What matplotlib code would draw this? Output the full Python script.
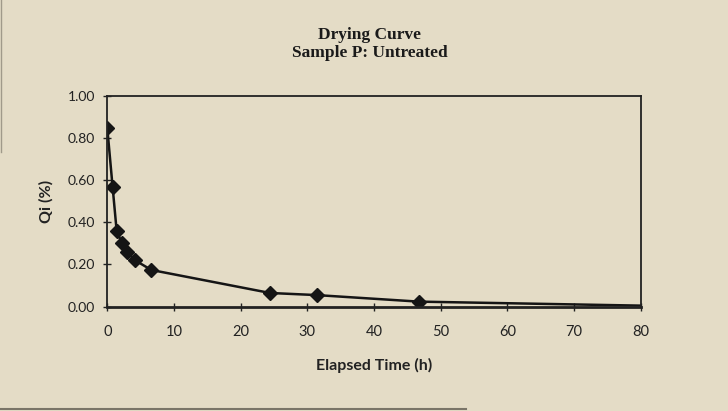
import matplotlib
matplotlib.use('Agg')
import matplotlib.pyplot as plt
from matplotlib.lines import Line2D

# drying curve, sample P untreated
hours = [0, 0.8, 1.4, 2.2, 3.0, 4.1, 6.6, 24.4, 31.4, 46.7, 80]
qi = [0.845, 0.566, 0.36, 0.30, 0.26, 0.221, 0.174, 0.065, 0.055, 0.024, 0.005]
xticks = [0, 10, 20, 30, 40, 50, 60, 70, 80]
yticks = [0.0, 0.2, 0.4, 0.6, 0.8, 1.0]

bg = '#e4dcc6'
fig = plt.figure(figsize=(7.28, 4.11), dpi=100, facecolor=bg)
ax = fig.add_axes([0.1474, 0.2538, 0.7327, 0.5134], facecolor=bg)

ax.plot(hours, qi, color='#151515', lw=1.8, marker='D', ms=7,
        markevery=list(range(len(hours) - 1)), mfc='#151515', mec='#151515')

ax.set_xlim(0, 80)
ax.set_ylim(0, 1.0)
ax.set_xticks(xticks)
ax.set_yticks(yticks)
ax.set_xticklabels([str(t) for t in xticks], family='Lato', fontsize=10.5)
ax.set_yticklabels(['%.2f' % t for t in yticks], family='Lato', fontsize=10)
ax.tick_params(axis='x', direction='inout', length=6, width=1, pad=10, colors='#222')
ax.tick_params(axis='y', direction='inout', length=6, width=1, pad=6, colors='#222')
for s in ax.spines.values():
    s.set_color('#222')
    s.set_linewidth(1.3)
ax.spines['bottom'].set_linewidth(2)

ax.set_xlabel('Elapsed Time (h)', family='Lato', fontweight='bold', fontsize=11.5,
              labelpad=14, color='#222')
ax.set_ylabel('Qi (%)', family='Lato', fontweight='bold', fontsize=11.5,
              labelpad=10, color='#222')

fig.text(0.508, 0.915, 'Drying Curve', ha='center', va='center',
         family='Liberation Serif', fontweight='bold', fontsize=12.5, color='#1a1a1a')
fig.text(0.508, 0.871, 'Sample P: Untreated', ha='center', va='center',
         family='Liberation Serif', fontweight='bold', fontsize=12.5, color='#1a1a1a')

# scan edges
fig.add_artist(Line2D([0.002, 0.002], [0.63, 1.0], transform=fig.transFigure,
                      color='#a09a8a', lw=1))
fig.add_artist(Line2D([0.0, 0.64], [0.004, 0.004], transform=fig.transFigure,
                      color='#7a7568', lw=1.5))

fig.savefig('out.png', dpi=100, facecolor=bg)
